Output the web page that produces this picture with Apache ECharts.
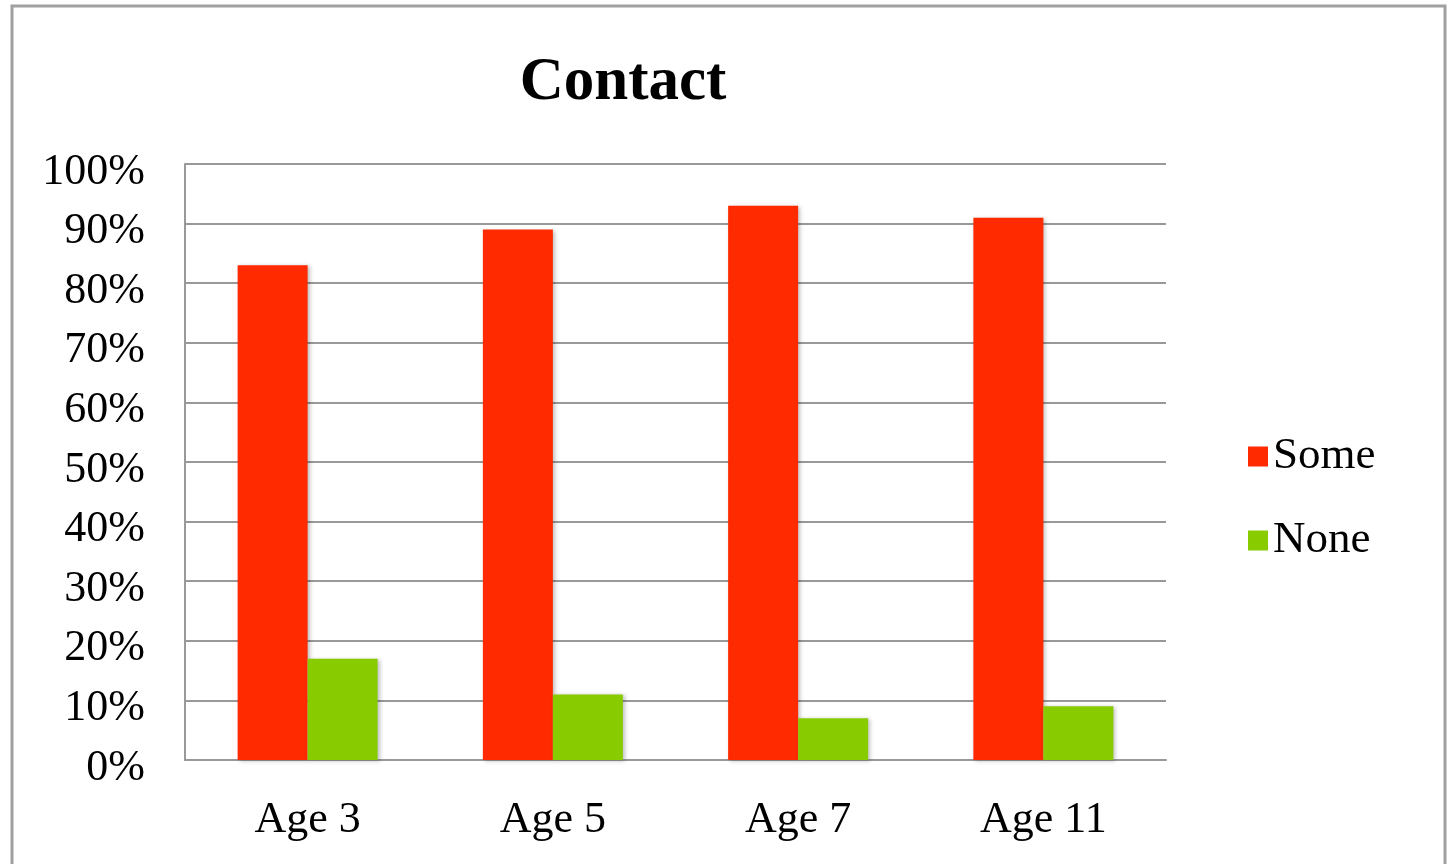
<!DOCTYPE html>
<html><head><meta charset="utf-8">
<script src="https://cdn.jsdelivr.net/npm/echarts@6/dist/echarts.min.js"></script>
<style>html,body{margin:0;padding:0;background:#fff}#c{width:1449px;height:864px}</style>
</head><body><div id="c"></div>
<script>
const categories = ['Age 3', 'Age 5', 'Age 7', 'Age 11'];
const someValues = [83, 89, 93, 91];
const noneValues = [17, 11, 7, 9];
const seriesNames = ['Some', 'None'];
const titleText = 'Contact';

const font = '"Liberation Serif", "DejaVu Serif", serif';
const chart = echarts.init(document.getElementById('c'));
const barShadow = {shadowBlur: 4, shadowColor: 'rgba(0,0,0,0.25)', shadowOffsetX: 2, shadowOffsetY: 1};
chart.setOption({
  animation: false,
  backgroundColor: '#fff',
  title: {
    text: titleText, left: 618, top: 48, textAlign: 'center',
    textStyle: {fontFamily: font, fontWeight: 'bold', fontSize: 61, color: '#000'}
  },
  graphic: [{
    type: 'rect', shape: {x: 12, y: 6, width: 1433, height: 880},
    style: {fill: 'none', stroke: '#a0a0a0', lineWidth: 3}, silent: true
  }],
  legend: {
    orient: 'vertical', left: 1243, top: 429,
    itemWidth: 20, itemHeight: 20, itemGap: 39,
    icon: 'rect',
    textStyle: {fontFamily: font, fontSize: 45, color: '#000', padding: [0, 0, 0, 0]},
    data: seriesNames
  },
  grid: {left: 185, right: 283, top: 164, bottom: 104},
  xAxis: {
    type: 'category', data: categories,
    axisLine: {lineStyle: {color: '#999', width: 2}},
    axisTick: {show: false},
    axisLabel: {fontFamily: font, fontSize: 44, color: '#000', margin: 38}
  },
  yAxis: {
    type: 'value', min: 0, max: 100, interval: 10,
    axisLine: {show: true, lineStyle: {color: '#999', width: 2}},
    axisTick: {show: false},
    splitLine: {lineStyle: {color: '#999', width: 2}},
    axisLabel: {
      color: '#000', margin: 40,
      formatter: function (v) { return '{v|' + v + '%}'; },
      rich: {v: {fontFamily: font, fontSize: 44, color: '#000', padding: [16, 0, 0, 0]}}
    }
  },
  series: [
    {name: seriesNames[0], type: 'bar', data: someValues, barWidth: 70, barGap: '0%',
     itemStyle: Object.assign({color: '#FF2A00'}, barShadow)},
    {name: seriesNames[1], type: 'bar', data: noneValues, barWidth: 70, barGap: '0%',
     itemStyle: Object.assign({color: '#88CC00'}, barShadow)}
  ]
});
</script></body></html>
